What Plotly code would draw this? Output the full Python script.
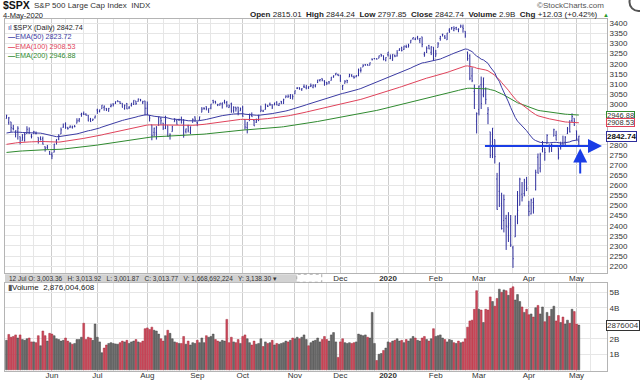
import pandas as pd
import plotly.graph_objects as go

# ---------------- data ----------------
holidays = ['2019-05-27', '2019-07-04', '2019-09-02', '2019-11-28', '2019-12-25',
            '2020-01-01', '2020-01-20', '2020-02-17', '2020-04-10', '2020-05-25']

prev_close = 2917.52

close = [
    # May 2019
    2945.64, 2932.47, 2884.05, 2879.42, 2870.72, 2881.40, 2811.87, 2834.41, 2850.96, 2876.32,
    2859.53, 2840.23, 2864.36, 2856.27, 2822.24, 2826.06, 2802.39, 2783.02, 2788.86, 2752.06,
    # Jun
    2744.45, 2803.27, 2826.15, 2843.49, 2873.34, 2886.73, 2885.72, 2879.84, 2891.64, 2886.98,
    2889.67, 2917.75, 2926.46, 2954.18, 2950.46, 2945.35, 2917.38, 2913.78, 2924.92, 2941.76,
    # Jul
    2964.33, 2973.01, 2995.82, 2990.41, 2975.95, 2979.63, 2993.07, 2999.91, 3013.77, 3014.30,
    3004.04, 2984.42, 2995.11, 2976.61, 2985.03, 3005.47, 3019.56, 3003.67, 3025.86, 3020.97,
    3013.18, 2980.38,
    # Aug
    2953.56, 2932.05, 2844.74, 2881.77, 2883.98, 2938.09, 2918.65, 2882.70, 2926.32, 2840.60,
    2847.60, 2888.68, 2923.65, 2900.51, 2924.43, 2922.95, 2847.11, 2878.38, 2869.16, 2887.94,
    2924.58, 2926.46,
    # Sep
    2906.27, 2937.78, 2976.00, 2978.71, 2978.43, 2979.39, 3000.93, 3009.57, 3007.39, 2997.96,
    3005.70, 3006.73, 3006.79, 2992.07, 2991.78, 2966.60, 2984.87, 2977.62, 2961.79, 2976.74,
    # Oct
    2940.25, 2887.61, 2910.63, 2952.01, 2938.79, 2893.06, 2919.40, 2938.13, 2970.27, 2966.15,
    2995.68, 2989.69, 2997.95, 2986.20, 3006.72, 2995.99, 3004.52, 3010.29, 3022.55, 3039.42,
    3036.89, 3046.77, 3037.56,
    # Nov
    3066.91, 3078.27, 3074.62, 3076.78, 3085.18, 3093.08, 3087.01, 3091.84, 3094.04, 3096.63,
    3120.46, 3122.03, 3120.18, 3108.46, 3103.54, 3110.29, 3133.64, 3140.52, 3153.63, 3140.98,
    # Dec
    3113.87, 3093.20, 3112.76, 3117.43, 3145.91, 3135.96, 3132.52, 3141.63, 3168.57, 3168.80,
    3191.45, 3192.52, 3191.14, 3205.37, 3221.22, 3224.01, 3223.38, 3239.91, 3240.02, 3221.29,
    3230.78,
    # Jan 2020
    3257.85, 3234.85, 3246.28, 3237.18, 3253.05, 3274.70, 3265.35, 3288.13, 3283.15, 3289.29,
    3316.81, 3329.62, 3320.79, 3321.75, 3325.54, 3295.47, 3243.63, 3276.24, 3273.40, 3283.66,
    3225.52,
    # Feb
    3248.92, 3297.59, 3334.69, 3345.78, 3327.71, 3352.09, 3357.75, 3379.45, 3373.94, 3380.16,
    3370.29, 3386.15, 3373.23, 3337.75, 3225.89, 3128.21, 3116.39, 2978.76, 2954.22,
    # Mar
    3090.23, 3003.37, 3130.12, 3023.94, 2972.37, 2746.56, 2882.23, 2741.38, 2480.64, 2711.02,
    2386.13, 2529.19, 2398.10, 2409.39, 2304.92, 2237.40, 2447.33, 2475.56, 2630.07, 2541.47,
    2626.65, 2584.59,
    # Apr
    2470.50, 2526.90, 2488.65, 2663.68, 2659.41, 2749.98, 2789.82, 2761.63, 2846.06, 2783.36,
    2799.55, 2874.56, 2823.16, 2736.56, 2799.31, 2797.80, 2836.74, 2878.48, 2863.39, 2939.51,
    2912.43,
    # May
    2830.71, 2842.74,
]

open_ = [
    2929.21, 2908.89, 2913.03, 2879.61, 2859.84, 2863.10, 2840.19, 2820.12, 2820.38, 2855.80,
    2858.60, 2841.94, 2854.02, 2856.06, 2836.70, 2832.41, 2830.03, 2790.25, 2786.94, 2766.15,
    2751.53, 2762.64, 2818.09, 2828.51, 2852.87, 2885.83, 2903.27, 2882.73, 2886.24, 2886.82,
    2889.75, 2906.71, 2920.55, 2949.60, 2952.71, 2951.42, 2945.78, 2926.07, 2919.66, 2932.94,
    2971.41, 2964.66, 2978.08, 2984.25, 2979.77, 2965.52, 2989.30, 3002.05, 3003.36, 3017.80,
    3012.13, 3005.10, 2978.87, 3004.26, 2981.93, 2994.74, 2998.77, 3016.26, 3013.25, 3024.47,
    3007.66, 3016.22,
    2980.32, 2943.90, 2898.07, 2861.18, 2858.65, 2896.21, 2930.51, 2907.07, 2880.72, 2894.15,
    2846.20, 2864.74, 2913.48, 2919.01, 2922.04, 2923.07, 2911.07, 2866.70, 2893.14, 2861.28,
    2910.37, 2937.09,
    2909.01, 2924.67, 2960.60, 2980.33, 2988.43, 2971.01, 2981.41, 3018.21, 3012.21, 2996.41,
    2995.67, 3001.50, 3010.36, 3008.42, 2983.50, 3002.43, 2968.35, 2985.47, 2985.73, 2967.07,
    2983.69, 2924.78, 2885.38, 2918.56, 2944.23, 2920.40, 2911.10, 2918.55, 2963.07, 2965.81,
    2973.61, 2989.68, 3000.77, 2996.84, 2996.48, 3010.73, 2994.01, 3014.78, 3003.32, 3032.12,
    3035.39, 3039.74, 3046.90,
    3050.72, 3078.96, 3080.80, 3075.10, 3087.02, 3081.25, 3080.33, 3089.28, 3084.18, 3090.75,
    3107.92, 3117.91, 3127.45, 3114.66, 3108.49, 3111.41, 3117.44, 3134.85, 3145.49, 3147.18,
    3143.85, 3087.41, 3103.50, 3119.21, 3134.62, 3141.86, 3135.36, 3135.75, 3141.23, 3166.65,
    3183.63, 3195.40, 3195.21, 3192.32, 3223.33, 3226.05, 3225.45, 3227.20, 3247.23, 3240.09,
    3215.18,
    3244.67, 3226.36, 3217.55, 3241.86, 3238.59, 3266.03, 3281.81, 3271.13, 3285.35, 3282.27,
    3302.97, 3323.66, 3321.03, 3330.02, 3315.77, 3333.10, 3247.16, 3255.35, 3289.46, 3256.45,
    3282.33,
    3235.66, 3280.61, 3324.91, 3344.92, 3335.54, 3318.28, 3365.87, 3370.50, 3365.90, 3378.08,
    3369.04, 3380.39, 3380.45, 3360.50, 3257.61, 3238.94, 3139.90, 3062.54, 2916.90,
    2974.28, 3096.46, 3045.78, 3075.70, 2954.20, 2863.89, 2813.48, 2825.60, 2630.86, 2569.99,
    2508.59, 2425.66, 2436.50, 2393.48, 2431.94, 2290.71, 2344.44, 2457.77, 2501.29, 2555.87,
    2558.98, 2614.69,
    2498.08, 2458.54, 2514.92, 2578.28, 2738.65, 2685.00, 2776.99, 2782.46, 2805.10, 2795.64,
    2799.34, 2842.43, 2845.62, 2784.81, 2787.89, 2810.42, 2812.64, 2854.65, 2909.96, 2918.46,
    2930.91,
    2869.09, 2815.01,
]

high = [
    2947.85, 2937.32, 2913.03, 2898.21, 2870.72, 2891.31, 2840.19, 2852.54, 2858.68, 2891.31,
    2885.48, 2853.86, 2868.88, 2865.47, 2836.70, 2841.36, 2840.51, 2792.03, 2799.00, 2768.98,
    2763.07, 2804.49, 2827.28, 2852.10, 2884.97, 2904.77, 2910.61, 2888.57, 2895.24, 2894.45,
    2897.27, 2930.79, 2931.74, 2958.06, 2964.15, 2954.92, 2946.52, 2932.59, 2929.30, 2943.98,
    2977.93, 2973.21, 2995.84, 2994.03, 2980.76, 2981.90, 3002.98, 3004.04, 3013.92, 3017.80,
    3015.02, 3005.26, 2998.28, 3006.02, 2990.71, 3005.90, 3019.59, 3016.31, 3027.98, 3025.61,
    3017.40, 3017.19,
    3013.59, 2945.50, 2898.07, 2884.40, 2892.17, 2938.72, 2935.75, 2907.07, 2943.31, 2894.15,
    2856.67, 2893.63, 2931.00, 2923.63, 2928.73, 2939.08, 2927.01, 2879.27, 2898.79, 2890.03,
    2930.50, 2940.43,
    2914.39, 2938.84, 2985.86, 2985.03, 2989.43, 2979.39, 3000.93, 3021.99, 3017.33, 3002.19,
    3006.21, 3007.83, 3021.99, 3016.37, 2999.15, 3007.98, 2989.82, 2987.28, 2987.31, 2983.85,
    2992.53, 2924.78, 2911.13, 2952.86, 2959.75, 2925.47, 2929.32, 2948.46, 2993.28, 2972.84,
    3003.28, 2997.54, 3008.29, 3000.00, 3007.33, 3014.57, 3004.78, 3016.07, 3027.39, 3044.08,
    3047.87, 3050.10, 3046.90,
    3066.95, 3085.20, 3083.95, 3078.34, 3097.77, 3093.09, 3088.33, 3102.61, 3098.06, 3098.20,
    3120.46, 3124.17, 3127.64, 3118.97, 3110.11, 3112.87, 3133.83, 3142.69, 3154.26, 3150.30,
    3144.31, 3094.97, 3119.38, 3119.45, 3150.60, 3148.87, 3142.12, 3143.98, 3176.28, 3182.68,
    3197.71, 3198.22, 3198.48, 3205.48, 3225.65, 3227.78, 3226.43, 3240.08, 3247.93, 3240.92,
    3231.72,
    3258.14, 3246.15, 3246.84, 3244.91, 3267.07, 3275.58, 3282.99, 3288.13, 3294.25, 3298.66,
    3316.81, 3329.88, 3329.50, 3337.77, 3326.88, 3333.18, 3258.85, 3285.78, 3293.47, 3285.91,
    3282.33,
    3268.44, 3306.92, 3337.58, 3347.96, 3341.42, 3352.26, 3375.63, 3381.47, 3385.09, 3380.69,
    3375.01, 3393.52, 3393.52, 3360.76, 3259.81, 3246.99, 3182.51, 3097.07, 2959.72,
    3090.96, 3136.72, 3130.97, 3083.04, 2985.93, 2863.89, 2882.59, 2825.60, 2660.95, 2711.33,
    2562.98, 2553.93, 2453.57, 2466.97, 2453.01, 2300.73, 2449.71, 2571.42, 2637.01, 2615.91,
    2631.80, 2641.39,
    2522.75, 2533.22, 2538.18, 2676.85, 2756.89, 2760.68, 2818.57, 2782.46, 2851.85, 2801.88,
    2806.51, 2879.22, 2868.98, 2785.54, 2815.10, 2844.90, 2842.71, 2887.72, 2921.15, 2954.86,
    2930.91,
    2869.09, 2844.24,
]

low = [
    2929.21, 2898.71, 2862.60, 2870.98, 2836.40, 2825.39, 2801.43, 2820.12, 2815.08, 2855.08,
    2854.23, 2831.29, 2854.02, 2851.06, 2805.49, 2821.20, 2801.58, 2766.06, 2776.74, 2750.52,
    2728.81, 2762.64, 2800.92, 2822.12, 2852.87, 2885.83, 2878.53, 2874.68, 2881.99, 2879.62,
    2886.11, 2905.44, 2911.43, 2938.14, 2946.66, 2944.05, 2916.01, 2912.99, 2918.57, 2929.74,
    2952.22, 2959.75, 2977.96, 2967.97, 2966.39, 2963.44, 2984.62, 2989.01, 3001.87, 3010.09,
    3001.15, 2984.38, 2973.09, 2975.86, 2976.65, 2988.56, 2996.82, 2996.36, 3013.25, 3014.32,
    3000.82, 2945.23,
    2945.23, 2914.74, 2822.12, 2839.64, 2825.71, 2894.47, 2899.29, 2873.14, 2877.05, 2839.64,
    2825.51, 2864.74, 2913.48, 2899.60, 2917.91, 2904.29, 2834.97, 2856.00, 2860.59, 2853.05,
    2910.37, 2913.32,
    2891.85, 2921.86, 2960.60, 2972.51, 2969.99, 2957.01, 2975.31, 3003.30, 3002.89, 2990.67,
    2993.73, 2978.57, 3003.16, 2984.68, 2982.23, 2957.73, 2957.73, 2963.71, 2945.53, 2967.07,
    2938.70, 2874.93, 2855.94, 2918.56, 2938.33, 2892.66, 2907.41, 2917.12, 2963.07, 2962.94,
    2973.61, 2986.19, 2991.79, 2976.31, 2995.35, 2995.06, 2991.21, 3000.42, 3001.94, 3032.12,
    3033.21, 3025.96, 3023.19,
    3050.72, 3074.82, 3072.15, 3065.89, 3080.23, 3073.58, 3075.82, 3084.73, 3078.80, 3083.26,
    3104.60, 3112.06, 3113.47, 3091.41, 3094.55, 3099.26, 3117.44, 3131.00, 3143.41, 3139.34,
    3110.78, 3070.33, 3102.53, 3103.76, 3134.62, 3135.46, 3126.09, 3133.21, 3138.47, 3156.51,
    3183.63, 3191.03, 3191.14, 3192.32, 3216.03, 3222.31, 3220.51, 3227.20, 3234.37, 3216.57,
    3212.03,
    3235.53, 3222.34, 3214.64, 3232.43, 3235.64, 3263.67, 3260.86, 3268.43, 3277.50, 3280.69,
    3302.97, 3318.86, 3316.61, 3320.04, 3301.87, 3281.53, 3234.50, 3253.22, 3271.89, 3242.80,
    3214.68,
    3235.66, 3280.61, 3313.75, 3334.39, 3322.12, 3317.77, 3352.72, 3369.72, 3360.52, 3366.15,
    3355.61, 3378.83, 3353.59, 3328.45, 3214.65, 3118.77, 3108.99, 2977.39, 2855.84,
    2945.19, 2976.63, 3034.38, 2999.83, 2901.54, 2734.43, 2734.00, 2707.22, 2478.86, 2492.37,
    2380.94, 2367.04, 2280.52, 2319.78, 2295.56, 2191.86, 2344.44, 2407.53, 2500.72, 2520.02,
    2545.28, 2571.15,
    2447.49, 2455.79, 2459.96, 2574.28, 2657.67, 2663.30, 2762.36, 2721.17, 2805.10, 2761.54,
    2764.32, 2842.43, 2821.46, 2727.10, 2775.95, 2791.76, 2794.20, 2852.89, 2860.71, 2912.16,
    2892.47,
    2821.61, 2797.85,
]

# volume in billions
volume = [
    1.90, 2.28, 2.10, 2.15, 2.25, 2.05, 2.25, 1.95, 1.90, 2.00, 2.05, 1.80, 1.80, 1.75, 2.20, 1.55, 2.50, 2.20, 1.85, 2.35,
    2.30, 2.20, 2.00, 1.95, 1.85, 1.90, 2.05, 1.85, 1.75, 1.65, 1.70, 1.95, 1.95, 2.10, 3.00, 1.95, 2.10, 2.05, 1.90, 2.95,
    2.10, 1.80, 1.10, 1.40, 1.60, 1.70, 1.75, 1.70, 1.67, 1.65, 1.75, 1.85, 1.80, 1.90, 1.70, 1.80, 1.85, 1.95, 1.80, 1.75, 1.85, 2.65,
    2.70, 2.60, 2.75, 2.55, 2.50, 2.30, 2.00, 1.85, 2.20, 2.55, 2.35, 2.00, 1.80, 1.75, 1.70, 1.70, 2.15, 1.65, 1.85, 1.60, 1.75, 1.70,
    1.90, 1.75, 2.05, 1.75, 2.20, 2.10, 2.15, 2.30, 1.95, 1.85, 1.80, 1.90, 1.85, 3.25, 1.75, 2.10, 1.80, 1.75, 1.95, 1.70,
    2.15, 2.25, 2.00, 1.75, 1.60, 1.85, 1.65, 1.70, 2.00, 1.50, 1.80, 1.70, 1.75, 1.90, 1.60, 1.70, 1.65, 1.70, 1.75, 1.85, 1.80, 1.90, 2.05,
    2.00, 2.10, 2.00, 2.10, 2.25, 1.95, 1.55, 1.75, 1.85, 1.90, 2.05, 1.80, 1.95, 2.15, 1.95, 1.85, 2.25, 2.40, 1.80, 0.80,
    1.80, 2.00, 1.75, 1.70, 1.75, 1.70, 1.75, 1.80, 2.30, 2.25, 2.20, 2.25, 2.10, 2.05, 3.70, 1.70, 0.60, 1.00, 1.05, 1.25, 1.40,
    1.80, 1.75, 1.85, 1.90, 2.00, 1.85, 1.90, 1.75, 1.95, 1.85, 2.00, 2.15, 2.05, 1.90, 1.85, 2.05, 2.15, 1.95, 1.85, 2.00, 2.65,
    2.15, 2.20, 2.25, 2.05, 1.95, 1.80, 1.95, 1.90, 1.75, 1.70, 1.85, 1.75, 1.80, 2.00, 2.75, 3.15, 3.20, 3.90, 5.10,
    3.90, 3.85, 3.05, 3.90, 3.85, 4.70, 4.40, 4.10, 4.60, 5.20, 5.00, 5.15, 5.10, 4.80, 5.25, 5.35, 4.50, 4.85, 4.40, 4.05, 3.70, 3.90,
    3.55, 3.60, 3.40, 4.00, 4.15, 3.60, 4.05, 3.10, 3.70, 3.45, 3.90, 4.10, 3.15, 3.50, 3.05, 3.40, 2.95, 3.20, 3.00, 3.90, 3.75,
    2.95, 2.88,
]

# EMA values at the first bar
ema_seed = {50: 2858.0, 100: 2802.0, 200: 2762.0}
ema_colors = {50: '#3b3ba3', 100: '#e0425a', 200: '#2f8a2f'}
ema_last = {50: '2823.72', 100: '2908.53', 200: '2946.88'}

price_ticks = list(range(2200, 3401, 50))
price_hidden = [2850, 2900, 2950]          # covered by the value boxes
vol_ticks = [1, 2, 3, 4, 5]
vol_ticktext = ['1B', '2B', '', '4B', '5B']  # 3B covered by the value box

# ---------------- derived ----------------
cal = [d for d in pd.bdate_range('2019-05-03', '2020-05-29') if d.strftime('%Y-%m-%d') not in holidays]
n = len(close)
xi = list(range(n))

month_idx, month_txt, minor_idx = [], [], []
prev = None
g11 = g21 = False
for i, d in enumerate(cal):
    key = (d.year, d.month)
    if key != prev:
        if i > 0:
            month_idx.append(i)
            month_txt.append('<b>2020</b>' if d.month == 1 else d.strftime('%b'))
        prev = key
        g11 = g21 = False
    if d.day >= 11 and not g11:
        minor_idx.append(i)
        g11 = True
    if d.day >= 21 and not g21:
        minor_idx.append(i)
        g21 = True

def ema(vals, period, seed):
    k = 2.0 / (period + 1)
    out = [seed]
    for v in vals[1:]:
        out.append(out[-1] + k * (v - out[-1]))
    return out

closes_prev = [prev_close] + close[:-1]
vcolors = ['#cf4a5c' if c < p else '#6b6b6b' for c, p in zip(close, closes_prev)]
vlines = ['#a02a3a' if c < p else '#454545' for c, p in zip(close, closes_prev)]

# ---------------- layout helpers ----------------
W, H = 640, 382
L, R, T, B = 5, 32.5, 19, 11.3
PW = W - L - R
PH = H - T - B

def px(x):
    return (x - L) / PW

def py(y):
    return (H - B - y) / PH

FONT = 'Liberation Sans, Arial, sans-serif'

fig = go.Figure()

fig.add_trace(go.Ohlc(
    x=xi, open=open_, high=high, low=low, close=close,
    increasing=dict(line=dict(color='#2e2e9c', width=1)),
    decreasing=dict(line=dict(color='#2e2e9c', width=1)),
    tickwidth=0.3, xaxis='x', yaxis='y', showlegend=False, hoverinfo='skip'))

for p in (200, 100, 50):
    fig.add_trace(go.Scatter(
        x=xi, y=ema(close, p, ema_seed[p]), mode='lines',
        line=dict(color=ema_colors[p], width=1), xaxis='x', yaxis='y',
        showlegend=False, hoverinfo='skip'))

fig.add_trace(go.Bar(
    x=xi, y=volume, marker=dict(color=vcolors, line=dict(color=vlines, width=0.5)),
    width=0.8, xaxis='x2', yaxis='y2', showlegend=False, hoverinfo='skip'))

xr = [-0.66, 264.4]

axis_common = dict(showline=True, mirror=True, linecolor='#b4b4b4', linewidth=1, automargin=False,
                   zeroline=False, ticks='', tickfont=dict(family=FONT, size=8, color='#333333'))

price_txt = [('' if i < 6 else t) for i, t in enumerate(month_txt)]

fig.update_layout(
    width=W, height=H,
    margin=dict(l=L, r=R, t=T, b=B, autoexpand=False),
    paper_bgcolor='white', plot_bgcolor='white',
    bargap=0.2,
    xaxis=dict(domain=[0, 1], range=xr, anchor='y', tickmode='array', tickvals=month_idx,
               ticktext=price_txt, showgrid=True, gridcolor='#cdcdcd', gridwidth=1,
               rangeslider=dict(visible=False), ticklabelstandoff=-3,
               minor=dict(tickmode='array', tickvals=minor_idx, showgrid=True, gridcolor='#e6e6e6', gridwidth=1),
               **axis_common),
    yaxis=dict(domain=[py(272.7), 1], range=[2167, 3421], side='right', anchor='x',
               tickmode='array', tickvals=price_ticks,
               ticktext=['' if v in price_hidden else str(v) for v in price_ticks],
               showgrid=True, gridcolor='#e6e6e6', gridwidth=1, **axis_common),
    xaxis2=dict(domain=[0, 1], range=xr, anchor='y2', tickmode='array', tickvals=month_idx,
                ticktext=month_txt, showgrid=True, gridcolor='#cdcdcd', gridwidth=1,
                rangeslider=dict(visible=False), ticklabelstandoff=-4,
                minor=dict(tickmode='array', tickvals=minor_idx, showgrid=True, gridcolor='#e6e6e6', gridwidth=1),
                **axis_common),
    yaxis2=dict(domain=[0, py(282.3)], range=[-0.077, 5.626], side='right', anchor='x2',
                tickmode='array', tickvals=vol_ticks, ticktext=vol_ticktext,
                showgrid=True, gridcolor='#e6e6e6', gridwidth=1, **axis_common),
)

ann = []

def txt(x, y, text, size=8, color='#222222', anchor='left', bold=False, family=FONT):
    ann.append(dict(xref='paper', yref='paper', x=px(x), y=py(y), text=('<b>%s</b>' % text) if bold else text,
                    showarrow=False, xanchor=anchor, yanchor='middle',
                    font=dict(family=family, size=size, color=color)))

# header
txt(1, 4.8, '$SPX', size=10.5, color='#111111', bold=True)
txt(32, 5.5, 'S&P 500 Large Cap Index&nbsp; INDX', size=8, color='#333333')
txt(1, 15.5, '4-May-2020', size=7.5, color='#222222')
txt(600, 15, '<b>Open</b> 2815.01 &nbsp;<b>High</b> 2844.24 &nbsp;<b>Low</b> 2797.85 &nbsp;<b>Close</b> 2842.74 &nbsp;'
             '<b>Volume</b> 2.9B &nbsp;<b>Chg</b> +12.03 (+0.42%)', size=8, color='#222222', anchor='right')
txt(601, 15, '▲', size=6, color='#2a9a2a')
txt(606, 5.5, '©StockCharts.com', size=8, color='#555555', anchor='right')

# price legend (one block, per-line colours)
legend_lines = [
    '<span style="color:#2e2e9c">ıl</span> $SPX (Daily) 2842.74',
    '<span style="color:%s"><b>—</b>EMA(50) %s</span>' % (ema_colors[50], ema_last[50]),
    '<span style="color:%s"><b>—</b>EMA(100) %s</span>' % (ema_colors[100], ema_last[100]),
    '<span style="color:%s"><b>—</b>EMA(200) %s</span>' % (ema_colors[200], ema_last[200]),
]
ann.append(dict(xref='paper', yref='paper', x=px(6), y=py(20.5), text='<br>'.join(legend_lines),
                showarrow=False, xanchor='left', yanchor='top', align='left',
                font=dict(family=FONT, size=7.2, color='#222222')))

# info band + volume legend
txt(7, 278, '12 Jul O: 3,003.36 &nbsp; H: 3,013.92 &nbsp; L: 3,001.87 &nbsp; C: 3,013.77 &nbsp; V: 1,668,692,224 &nbsp; Y: 3,138.30 ▾',
    size=6.5, color='#333333')
txt(6, 287, '<span style="color:#555">▮</span>Volume&nbsp; 2,876,004,608', size=8, color='#222222')

# right side value boxes
def vbox(yval, yref, text, border, bold=False, color='#333333', size=8, h=None):
    d = dict(xref='paper', yref=yref, x=px(606), y=yval, text=('<b>%s</b>' % text) if bold else text,
             showarrow=False, xanchor='left', yanchor='middle', bgcolor='white',
             bordercolor=border, borderwidth=1, borderpad=0,
             font=dict(family=FONT, size=size, color=color))
    if h:
        d['height'] = h
    ann.append(d)

vbox(2946.88, 'y', '2946.88', '#2f8a2f', size=7.5, h=7)
vbox(2908.53, 'y', '2908.53', '#e0425a', size=7.5, h=7)
vbox(2842.74, 'y', '2842.74', '#2e2e9c', bold=True, color='#111111')
vbox(2.876, 'y2', '2876004', '#333333')

# arrows
ann.append(dict(xref='x', yref='y', axref='x', ayref='y', x=262.2, y=2794, ax=210, ay=2794, text='',
                showarrow=True, arrowhead=2, arrowsize=1.4, arrowwidth=2, arrowcolor='#1a3de6'))
ann.append(dict(xref='x', yref='y', axref='x', ayref='y', x=252.6, y=2782, ax=252.6, ay=2650, text='',
                showarrow=True, arrowhead=2, arrowsize=1.4, arrowwidth=2, arrowcolor='#1a3de6'))

fig.update_layout(annotations=ann)

shapes = [
    dict(type='rect', xref='paper', yref='paper', x0=px(5), x1=px(297), y0=py(282), y1=py(274),
         fillcolor='#d2d2d2', line=dict(width=0), layer='above'),
    dict(type='rect', xref='paper', yref='paper', x0=px(297), x1=px(322), y0=py(282), y1=py(274),
         fillcolor='rgba(0,0,0,0)', line=dict(width=1, color='#aaaaaa', dash='dot'), layer='above'),
    dict(type='circle', xref='paper', yref='paper', x0=px(630), x1=px(648), y0=py(-7), y1=py(11),
         fillcolor='#ffffff', line=dict(width=2, color='#555555'), layer='above'),
]
fig.update_layout(shapes=shapes)

fig.write_html('out.html', config={'displayModeBar': False},
               post_script="document.body.style.margin='0px';document.body.style.overflow='hidden';")
